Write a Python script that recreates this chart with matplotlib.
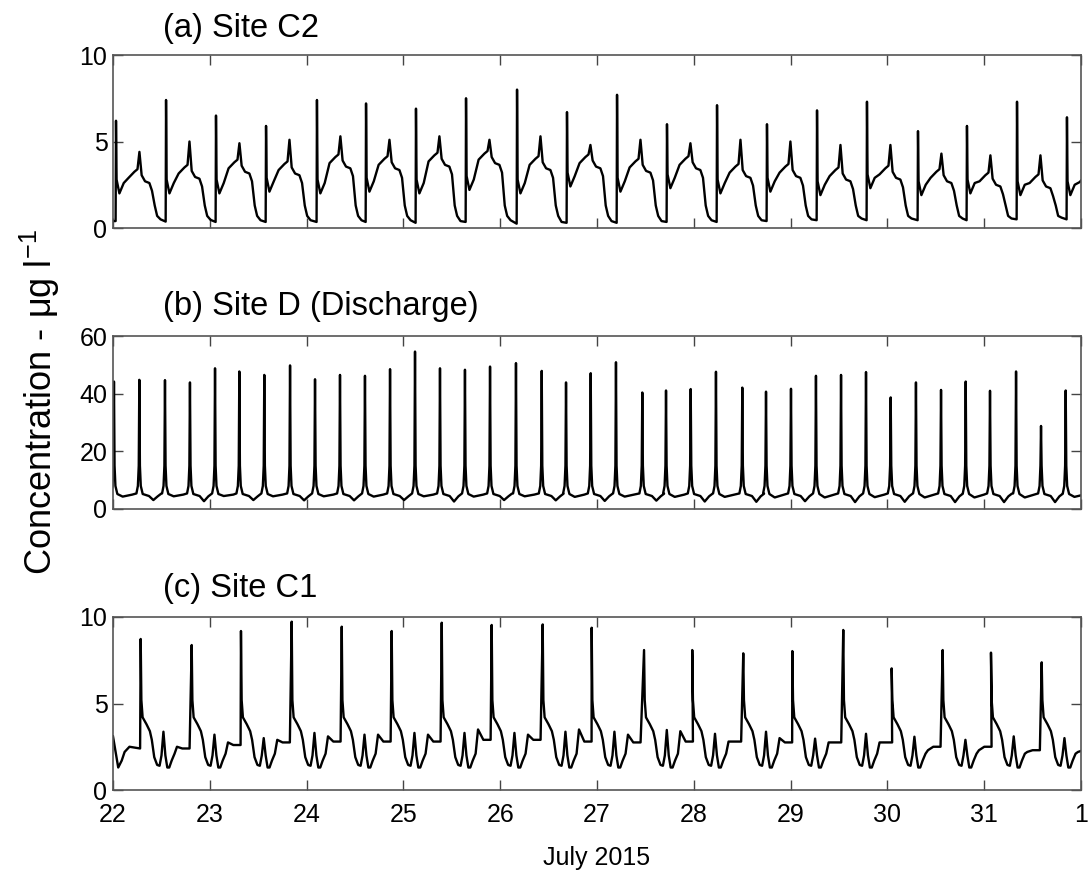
import matplotlib
matplotlib.use('Agg')
import matplotlib.pyplot as plt

plt.rcParams['font.family'] = ['Liberation Sans', 'DejaVu Sans']

# time axis: days after 22 July 2015 00:00
day_ticks = [0, 1, 2, 3, 4, 5, 6, 7, 8, 9, 10]
day_labels = ['22', '23', '24', '25', '26', '27', '28', '29', '30', '31', '1']

# (a) Site C2 - one flush spike per tidal cycle
c2_spike_day = [0.031, 0.548, 1.064, 1.581, 2.107, 2.614, 3.130, 3.647, 4.174, 4.690,
                5.207, 5.723, 6.240, 6.756, 7.273, 7.789, 8.316, 8.822, 9.339, 9.855]
c2_spike = [6.2, 7.4, 6.5, 5.9, 7.4, 7.2, 6.9, 7.5, 8.0, 6.7,
            7.7, 6.0, 7.1, 6.0, 6.8, 7.3, 5.6, 5.9, 7.3, 6.4]
c2_trough = [2.0, 2.0, 2.0, 2.1, 2.0, 2.1, 2.0, 2.2, 2.0, 2.4,
             2.1, 2.3, 2.0, 2.1, 1.9, 2.3, 1.9, 2.0, 1.9, 1.9]
c2_mid = [3.25, 3.5, 3.8, 3.7, 4.1, 4.0, 4.2, 4.3, 4.0, 4.1,
          3.85, 4.0, 3.55, 3.55, 3.35, 3.45, 3.25, 3.05, 2.95, 3.0]
c2_hump = [4.4, 5.0, 4.9, 5.1, 5.3, 5.1, 5.3, 5.1, 5.3, 4.8,
           5.1, 4.9, 5.1, 5.0, 4.8, 4.8, 4.3, 4.2, 4.2, 4.2]
c2_floor = [0.4, 0.37, 0.35, 0.35, 0.35, 0.35, 0.3, 0.35, 0.25, 0.3,
            0.3, 0.35, 0.35, 0.4, 0.45, 0.45, 0.45, 0.45, 0.5, 0.5]

# (b) Site D (Discharge) - spikes twice per tidal cycle
d_spike_day = [0.010, 0.272, 0.537, 0.795, 1.054, 1.305, 1.563, 1.829, 2.087, 2.345,
               2.603, 2.862, 3.120, 3.378, 3.636, 3.895, 4.163, 4.429, 4.680, 4.935,
               5.196, 5.468, 5.713, 5.968, 6.229, 6.501, 6.746, 7.004, 7.262, 7.521,
               7.779, 8.034, 8.295, 8.554, 8.809, 9.060, 9.329, 9.587, 9.842]
d_spike = [44.2, 44.8, 44.7, 43.9, 48.8, 47.7, 46.5, 49.8, 45.0, 46.5,
           46.2, 48.5, 54.6, 48.8, 48.3, 49.4, 50.6, 47.9, 43.9, 47.1,
           50.9, 40.4, 41.1, 41.6, 47.6, 42.1, 40.7, 41.7, 46.2, 46.5,
           47.5, 38.7, 43.9, 41.3, 44.2, 41.0, 47.7, 28.8, 41.1]
d_low = [4.3, 3.1, 4.4, 2.7, 4.5, 3.1, 4.4, 3.0, 4.4, 3.0,
         4.3, 3.1, 4.4, 2.6, 4.3, 3.1, 4.4, 3.0, 4.2, 2.8,
         4.3, 2.9, 4.2, 2.6, 4.2, 2.5, 4.0, 2.7, 4.0, 2.4,
         4.1, 2.5, 4.0, 2.4, 4.0, 2.4, 4.0, 2.4, 4.2]

# (c) Site C1
c1_lead_day = [0.0, 0.054, 0.09, 0.12, 0.17, 0.28]
c1_lead = [3.1, 1.3, 1.7, 2.2, 2.5, 2.4]
c1_spike_day = [0.286, 0.813, 1.322, 1.846, 2.363, 2.879, 3.396, 3.912, 4.439, 4.945,
                5.486, 5.984, 6.511, 7.018, 7.544, 8.044, 8.571, 9.070, 9.594]
c1_spike = [8.73, 8.38, 9.19, 9.73, 9.44, 9.19, 9.67, 9.54, 9.57, 9.38,
            8.09, 8.09, 7.9, 8.03, 9.25, 7.03, 8.09, 7.94, 7.38]
c1_small = [3.37, 3.2, 3.0, 3.3, 3.2, 3.3, 3.3, 3.3, 3.37, 3.37,
            3.47, 3.25, 3.37, 2.97, 3.25, 3.08, 2.9, 3.1, 3.0]
c1_bump = [2.5, 2.75, 2.9, 3.1, 3.2, 3.2, 3.5, 3.2, 3.5, 3.2,
           3.4, 2.8, 3.0, 2.75, 2.75, 2.3, 2.3, 2.2, 2.2]
c1_plateau = [2.4, 2.6, 2.75, 2.8, 2.8, 2.8, 2.9, 2.9, 2.8, 2.75,
              2.8, 2.8, 2.75, 2.75, 2.75, 2.5, 2.5, 2.3, 2.3]


def c2_series():
    t, v = [0.0], [c2_floor[0]]
    for s, sp, tr, md, hp, fl in zip(c2_spike_day, c2_spike, c2_trough, c2_mid, c2_hump, c2_floor):
        dts = [-0.004, 0.0, 0.006, 0.035, 0.08, 0.13, 0.19, 0.222, 0.242,
               0.265, 0.30, 0.345, 0.372, 0.40, 0.425, 0.46]
        vals = [fl, sp, tr + 0.8, tr, tr + 0.6, md - 0.35, md, md + 0.15, hp,
                md - 0.2, md - 0.55, md - 0.65, md - 1.1, 1.3, 0.7, fl + 0.1]
        t += [s + d for d in dts]
        v += vals
    return t, v


def d_series():
    t, v = [], []
    for s, pk, lo in zip(d_spike_day, d_spike, d_low):
        dts = [-0.03, -0.015, -0.006, 0.0, 0.006, 0.015, 0.035]
        vals = [5.4, 8.0, 15, pk, 15, 8.0, 5.2]
        if lo < 4:
            dts += [0.10, 0.145, 0.19, 0.225]
            vals += [4.5, lo, 4.4, 5.3]
        else:
            dts += [0.09, 0.19]
            vals += [lo, 5.0]
        t += [s + d for d in dts]
        v += vals
    return t, v


def c1_series():
    t, v = list(c1_lead_day), list(c1_lead)
    for s, pk, q, r, pl in zip(c1_spike_day, c1_spike, c1_small, c1_bump, c1_plateau):
        dts = [0.0, 0.007, 0.02, 0.06, 0.095, 0.115, 0.14, 0.17, 0.195, 0.215,
               0.235, 0.255, 0.275, 0.295, 0.32, 0.35, 0.375, 0.43, 0.505]
        vals = [pk, 5.2, 4.2, 3.8, 3.4, 2.9, 1.9, 1.45, 1.4, 2.0,
                q, 2.0, 1.3, 1.3, 1.7, 2.1, r, pl, pl]
        t += [s + d for d in dts]
        v += vals
    return t, v


fig = plt.figure(figsize=(10.89, 8.74), dpi=100)
left, width, height = 113 / 1089, 968 / 1089, 173 / 874
bottoms = [1 - 228 / 874, 1 - 509 / 874, 1 - 790 / 874]

panels = [
    ("(a) Site C2", c2_series(), (0, 10), [0, 5, 10], 1 - 29 / 874),
    ("(b) Site D (Discharge)", d_series(), (0, 60), [0, 20, 40, 60], 1 - 306 / 874),
    ("(c) Site C1", c1_series(), (0, 10), [0, 5, 10], 1 - 589 / 874),
]

for i, (title, (t, v), ylim, yt, ty) in enumerate(panels):
    ax = fig.add_axes([left, bottoms[i], width, height])
    ax.plot(t, v, color='black', lw=1.7, solid_joinstyle='round')
    ax.set_xlim(0, 10)
    ax.set_ylim(*ylim)
    ax.set_yticks(yt)
    ax.set_xticks(day_ticks)
    if i == 2:
        ax.set_xticklabels(day_labels)
    else:
        ax.set_xticklabels([])
    ax.tick_params(direction='in', length=7, width=1, top=True, right=True,
                   labelsize=18, colors='#444444', labelcolor='black', pad=4)
    ax.tick_params(axis='x', pad=9)
    for sp in ax.spines.values():
        sp.set_color('#555555')
        sp.set_linewidth(1.2)
    fig.text(163 / 1089, ty, title, fontsize=23.5, ha='left', va='center')

fig.text(597 / 1089, 1 - 858 / 874, "July 2015", fontsize=18, ha='center', va='center')
fig.text(40 / 1089, 1 - 402 / 874, r"Concentration - $\mathregular{\mu}$g l$^{\mathregular{-1}}$",
         fontsize=26, rotation=90, ha='center', va='center')

fig.savefig('out.png', dpi=100, facecolor='white')
